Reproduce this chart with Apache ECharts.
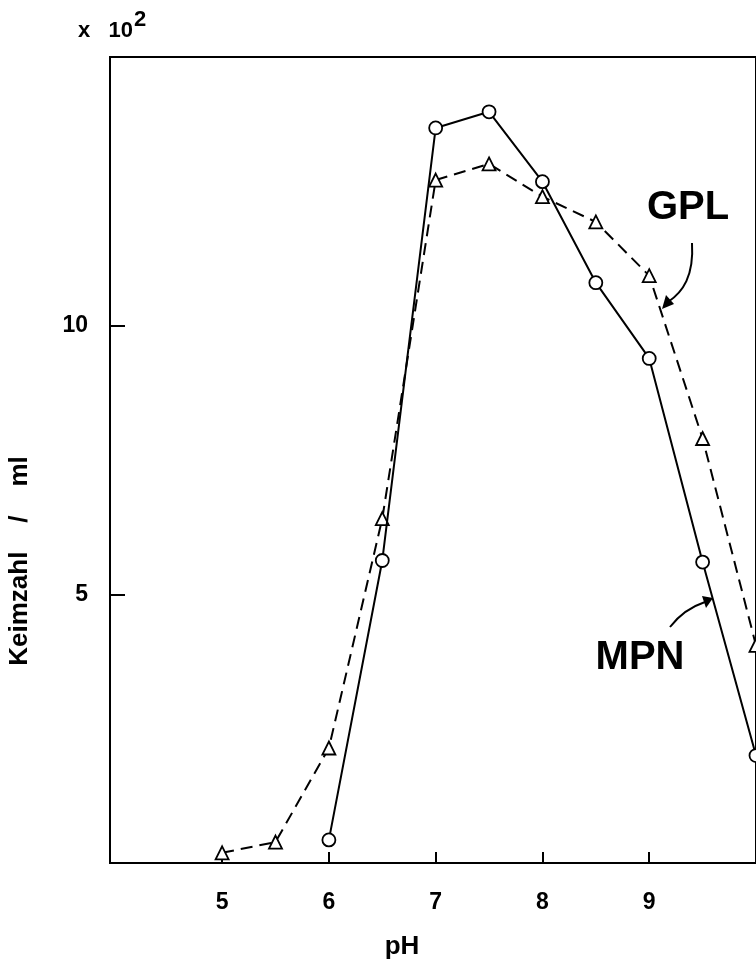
<!DOCTYPE html>
<html>
<head>
<meta charset="utf-8">
<script src="https://cdn.jsdelivr.net/npm/echarts@6/dist/echarts.min.js"></script>
<style>
  html, body { margin: 0; padding: 0; background: #fff; }
  #chart { width: 756px; height: 964px; }
</style>
</head>
<body>
<div id="chart"></div>
<script>
// pH values and germ counts (x 10^2 per ml)
const phMPN = [6, 6.5, 7, 7.5, 8, 8.5, 9, 9.5, 10]
const countMPN = [0.43, 5.63, 13.68, 13.98, 12.68, 10.8, 9.39, 5.6, 2.0]
const phGPL = [5, 5.5, 6, 6.5, 7, 7.5, 8, 8.5, 9, 9.5, 10]
const countGPL = [0.19, 0.39, 2.14, 6.41, 12.71, 13.01, 12.4, 11.93, 10.93, 7.9, 4.05]
const xTicks = [5, 6, 7, 8, 9]
const yTicks = [5, 10]

const font = 'Liberation Sans, Arial, sans-serif'
const pairs = (xs, ys) => xs.map((x, i) => [x, ys[i]])

const chart = echarts.init(document.getElementById('chart'))

const option = {
    backgroundColor: '#fff',
    animation: false,
    grid: {
        left: 110,
        right: 0,
        top: 57,
        bottom: 101,
        show: true,
        borderColor: '#000',
        borderWidth: 2,
        backgroundColor: 'transparent'
    },
    xAxis: {
        type: 'value',
        min: 3.95,
        max: 10,
        splitLine: { show: false },
        axisLine: { lineStyle: { color: '#000', width: 2 } },
        axisTick: {
            inside: true,
            length: 11,
            customValues: xTicks,
            lineStyle: { color: '#000', width: 2 }
        },
        axisLabel: {
            customValues: xTicks,
            margin: 28,
            color: '#000',
            fontSize: 23,
            fontWeight: 'bold',
            fontFamily: font
        }
    },
    yAxis: {
        type: 'value',
        min: 0,
        max: 15,
        splitLine: { show: false },
        axisLine: { lineStyle: { color: '#000', width: 2 } },
        axisTick: {
            inside: true,
            length: 15,
            customValues: yTicks,
            lineStyle: { color: '#000', width: 2 }
        },
        axisLabel: {
            customValues: yTicks,
            margin: 22,
            color: '#000',
            fontSize: 23,
            fontWeight: 'bold',
            fontFamily: font
        }
    },
    series: [
        {
            name: 'MPN',
            type: 'line',
            data: pairs(phMPN, countMPN),
            symbol: 'circle',
            symbolSize: 13,
            showAllSymbol: true,
            lineStyle: { color: '#000', width: 2 },
            itemStyle: { color: '#fff', borderColor: '#000', borderWidth: 1.8 },
            z: 3
        },
        {
            name: 'GPL',
            type: 'line',
            data: pairs(phGPL, countGPL),
            symbol: 'triangle',
            symbolSize: 13,
            showAllSymbol: true,
            lineStyle: { color: '#000', width: 2, type: [12, 7] },
            itemStyle: { color: '#fff', borderColor: '#000', borderWidth: 1.8 },
            z: 2
        }
    ],
    graphic: [
        {
            type: 'text',
            left: 78,
            top: 20,
            style: {
                text: 'x   10',
                fill: '#000',
                font: 'bold 22px ' + font
            }
        },
        {
            type: 'text',
            left: 134,
            top: 9,
            style: {
                text: '2',
                fill: '#000',
                font: 'bold 22px ' + font
            }
        },
        {
            type: 'text',
            x: 20,
            y: 561,
            rotation: Math.PI / 2,
            style: {
                text: 'Keimzahl    /    ml',
                fill: '#000',
                font: 'bold 26px ' + font,
                align: 'center',
                verticalAlign: 'middle'
            }
        },
        {
            type: 'text',
            x: 402,
            y: 947,
            style: {
                text: 'pH',
                fill: '#000',
                font: 'bold 26px ' + font,
                align: 'center',
                verticalAlign: 'middle'
            }
        },
        {
            type: 'text',
            x: 688,
            y: 208,
            style: {
                text: 'GPL',
                fill: '#000',
                font: 'bold 40px ' + font,
                align: 'center',
                verticalAlign: 'middle'
            }
        },
        {
            type: 'text',
            x: 640,
            y: 658,
            style: {
                text: 'MPN',
                fill: '#000',
                font: 'bold 40px ' + font,
                align: 'center',
                verticalAlign: 'middle'
            }
        },
        // arrow GPL
        {
            type: 'bezierCurve',
            shape: { x1: 692, y1: 243, cpx1: 694, cpy1: 276, cpx2: 683, cpy2: 292, x2: 668, y2: 302 },
            style: { stroke: '#000', lineWidth: 2, fill: null }
        },
        {
            type: 'polygon',
            shape: { points: [[662, 309], [666, 295], [674, 304]] },
            style: { fill: '#000' }
        },
        // arrow MPN
        {
            type: 'bezierCurve',
            shape: { x1: 670, y1: 627, cpx1: 680, cpy1: 614, cpx2: 693, cpy2: 606, x2: 705, y2: 602 },
            style: { stroke: '#000', lineWidth: 2, fill: null }
        },
        {
            type: 'polygon',
            shape: { points: [[713, 598], [702, 596], [706, 608]] },
            style: { fill: '#000' }
        }
    ]
}

chart.setOption(option)
</script>
</body>
</html>
